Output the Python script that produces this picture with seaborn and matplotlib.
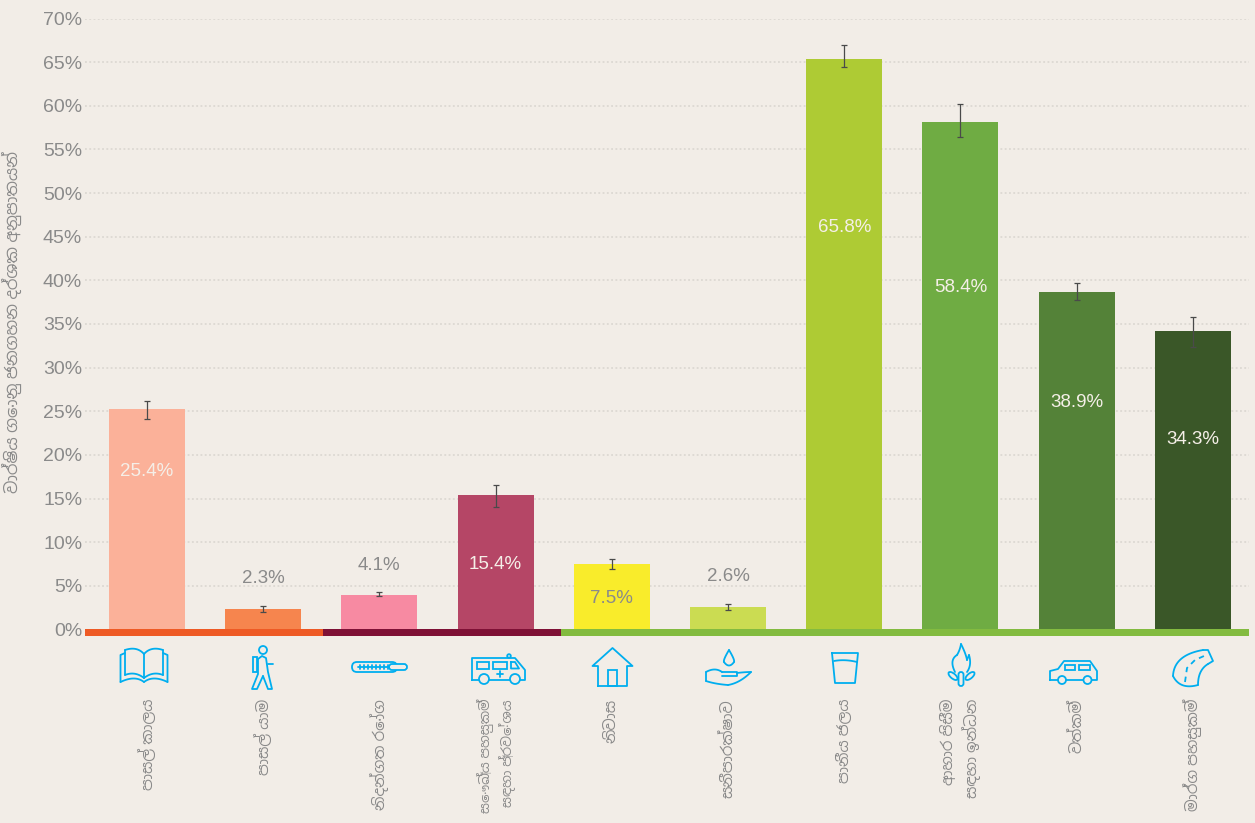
#!/usr/bin/env python3
import numpy as np
import pandas as pd
import matplotlib
matplotlib.use('Agg')
import matplotlib.pyplot as plt
from matplotlib.patches import Circle, Rectangle, FancyBboxPatch, Ellipse
import seaborn as sns

dimensions = ['පාසල් කාලය', 'පාසල් යාම', 'නිදන්ගත රෝග',
              'සෞඛ්‍ය පහසුකම්\nසඳහා ප්‍රවේශය', 'නිවාස', 'සනීපාරක්ෂාව', 'පානීය ජලය',
              'ආහාර පිසීම\nසඳහා ඉන්ධන', 'වත්කම්', 'මාර්ග පහසුකම්']
heights = [25.3, 2.3, 4.0, 15.4, 7.5, 2.6, 65.4, 58.1, 38.7, 34.2]
value_labels = ['25.4%', '2.3%', '4.1%', '15.4%', '7.5%', '2.6%', '65.8%', '58.4%', '38.9%', '34.3%']
err_low = [24.1, 2.0, 3.8, 14.0, 6.9, 2.2, 64.4, 56.4, 37.8, 32.4]
err_high = [26.2, 2.7, 4.3, 16.5, 8.1, 2.9, 67.0, 60.2, 39.7, 35.8]
ytick_values = list(range(0, 75, 5))
ylabel_text = 'වාර්ෂිය ගොනු ජනගහන දර්ශක අනුපාතයන්'

bar_colors = ['#FBB199', '#F6854E', '#F78AA2', '#B54666', '#F9EC2B',
              '#CBDC52', '#AECB34', '#6FAC43', '#548238', '#3A5728']
label_colors = ['#F5EFE8', '#8A8A8A', '#8A8A8A', '#F5EFE8', '#8A8A8A',
                '#8A8A8A', '#F5EFE8', '#F5EFE8', '#F5EFE8', '#F5EFE8']
label_at = [18.1, 5.9, 7.3, 7.5, 3.6, 6.1, 46.1, 39.2, 26.0, 21.8]

BG = '#F2EDE7'
GREY = '#8A8A8A'
BLUE = '#00AEEF'

sns.set_theme(style='white')
plt.rcParams['font.family'] = ['Liberation Sans', 'Noto Sans Sinhala', 'DejaVu Sans']

fig = plt.figure(figsize=(12.55, 8.23), dpi=100, facecolor=BG)
W, H = 1255, 823
ax = fig.add_axes([85 / W, 1 - 629.5 / H, (1249 - 85) / W, (629.5 - 18.5) / H], facecolor=BG)

df = pd.DataFrame({'dim': dimensions, 'val': heights})
sns.barplot(data=df, x='dim', y='val', hue='dim', palette=bar_colors, legend=False,
            width=76 / 116.2, saturation=1, linewidth=0, edgecolor='none', ax=ax, zorder=3)
xs = np.arange(len(heights))
ax.errorbar(xs, heights,
            yerr=[np.array(heights) - np.array(err_low), np.array(err_high) - np.array(heights)],
            fmt='none', ecolor='#4A4A4A', elinewidth=0.9, capsize=2.5, capthick=0.9, zorder=4)

for x, y, txt, c in zip(xs, label_at, value_labels, label_colors):
    ax.text(x, y, txt, ha='center', va='center', fontsize=13.5, color=c, zorder=5)

ax.set_xlim((85 - 147) / 116.2, (1249 - 147) / 116.2)
ax.set_ylim(0, 70)
ax.set_yticks(ytick_values)
ax.set_yticklabels([f'{v}%' for v in ytick_values], fontsize=14, color=GREY)
ax.set_ylabel(ylabel_text, fontsize=11.8, color=GREY, va='center')
ax.yaxis.set_label_coords((13 - 85) / (1249 - 85), 0.503)
ax.set_xlabel('')
ax.tick_params(axis='y', length=0, pad=2)
ax.tick_params(axis='x', length=0, pad=50, labelsize=10.8, labelcolor=GREY)
plt.setp(ax.get_xticklabels(), rotation=90, ha='center', va='top', ma='right', linespacing=1.45)
ax.get_xticklabels()[3].set_fontsize(9.6)  # long one, has to fit above the bottom edge
ax.grid(axis='y', color='#D9D5CF', linestyle=(0, (1.2, 1.6)), linewidth=1.1, zorder=0)
ax.set_axisbelow(True)
sns.despine(ax=ax, left=True, bottom=True, top=True, right=True)

# overlay in pixels for the coloured strip and the icons
ov = fig.add_axes([0, 0, 1, 1], facecolor='none')
ov.set_xlim(0, W)
ov.set_ylim(H, 0)
ov.axis('off')
for x0, x1, c in [(85, 323, '#EE5A25'), (323, 561, '#7F1136'), (561, 1249, '#83BB40')]:
    ov.add_patch(Rectangle((x0, 629), x1 - x0, 7, color=c, lw=0))

ic = dict(color=BLUE, lw=1.3, solid_capstyle='round', solid_joinstyle='round')


def line(*pts):
    a = np.array(pts)
    ov.plot(a[:, 0], a[:, 1], **ic)


def curve(p0, p1, p2, n=20):
    t = np.linspace(0, 1, n)[:, None]
    p0, p1, p2 = map(np.array, (p0, p1, p2))
    a = (1 - t) ** 2 * p0 + 2 * t * (1 - t) * p1 + t ** 2 * p2
    ov.plot(a[:, 0], a[:, 1], **ic)


def ring(x, y, r):
    ov.add_patch(Circle((x, y), r, fill=False, ec=BLUE, lw=1.3))


def box(x, y, w, h):
    ov.add_patch(Rectangle((x, y), w, h, fill=False, ec=BLUE, lw=1.3))


# book
curve((144, 678), (135, 671), (125, 675))
curve((144, 678), (153, 671), (163, 675))
line((125, 675), (125, 650))
line((163, 675), (163, 650))
curve((125, 650), (137, 646), (144, 654))
curve((163, 650), (151, 646), (144, 654))
line((144, 654), (144, 678))
line((125, 653), (120.5, 655), (120.5, 682))
line((163, 653), (167.5, 655), (167.5, 682))
curve((120.5, 682), (135, 675), (144, 682))
curve((167.5, 682), (153, 675), (144, 682))

# walker
ring(263, 650, 4)
line((258, 659), (262, 656), (266, 658), (268, 672), (272, 689), (268, 689), (263, 676))
line((268, 664), (273, 664))
line((258, 659), (258, 674), (252, 689), (257, 689), (263, 676))
box(252.5, 657, 4.5, 15)

# thermometer
ov.add_patch(FancyBboxPatch((352, 662), 45, 10, boxstyle='round,pad=0,rounding_size=5',
                            fill=False, ec=BLUE, lw=1.3))
ov.add_patch(FancyBboxPatch((389, 664), 18, 6, boxstyle='round,pad=0,rounding_size=3',
                            fc=BG, ec=BLUE, lw=1.3, zorder=3))
line((358, 667), (403, 667))
for tx in range(360, 390, 4):
    line((tx, 665), (tx, 669))

# ambulance
line((472, 680), (472, 658), (515, 658), (525, 670), (525, 680), (472, 680))
box(477, 662, 12, 6.5)
box(493, 662, 14, 6.5)
line((511, 662), (515, 662), (519, 668.5), (511, 668.5), (511, 662))
line((500, 671), (500, 677))
line((497, 674), (503, 674))
ring(509, 656, 1.8)
ov.add_patch(Circle((484, 679), 5, fc=BG, ec=BLUE, lw=1.3, zorder=3))
ov.add_patch(Circle((515, 679), 5, fc=BG, ec=BLUE, lw=1.3, zorder=3))

# house
line((598, 686), (598, 666), (592.5, 666), (612.5, 648), (632.5, 666), (627, 666), (627, 686), (598, 686))
box(608, 670, 8.5, 16)

# water in hand
curve((729, 650), (723, 660), (724, 662))
curve((729, 650), (735, 660), (734, 662))
curve((724, 662), (729, 669), (734, 662))
line((706, 672), (706, 681))
curve((706, 672), (715, 667), (722, 672))
line((722, 672), (737, 672), (737, 676), (722, 676))
curve((737, 673), (745, 672), (751, 672))
curve((751, 672), (740, 683), (728, 685))
curve((728, 685), (715, 684), (706, 681))

# glass
line((832, 653), (858, 653), (855, 683), (835, 683), (832, 653))
curve((834, 661), (845, 659), (857, 662))

# fire
curve((955, 672), (949, 660), (957, 655))
curve((957, 655), (960, 650), (961, 644))
curve((961, 644), (966, 654), (967, 660))
line((967, 660), (969, 655))
curve((969, 655), (972, 665), (967, 672))
ov.add_patch(Ellipse((953, 676), 5, 11, angle=-50, fill=False, ec=BLUE, lw=1.3))
ov.add_patch(Ellipse((970, 676), 5, 11, angle=50, fill=False, ec=BLUE, lw=1.3))
ov.add_patch(FancyBboxPatch((958.5, 672), 5, 14, boxstyle='round,pad=0,rounding_size=2.5',
                            fill=False, ec=BLUE, lw=1.3))

# car
line((1050, 680), (1050, 671), (1058, 669), (1064, 661), (1090, 661), (1097, 671), (1097, 680), (1050, 680))
box(1065, 665, 10, 5)
box(1079, 665, 11, 5)
ov.add_patch(Circle((1062, 680), 4, fc=BG, ec=BLUE, lw=1.3, zorder=3))
ov.add_patch(Circle((1087.5, 680), 4, fc=BG, ec=BLUE, lw=1.3, zorder=3))

# road
curve((1173, 676), (1174, 655), (1203, 650))
line((1203, 650), (1208, 650), (1213, 661), (1208, 664))
curve((1208, 664), (1198, 670), (1198, 685))
curve((1198, 685), (1180, 690), (1173, 676))
ic_dash = dict(ic)
ic_dash['linestyle'] = (0, (3, 2.5))
a = np.array([[1185, 682], [1187, 668], [1195, 660], [1204, 656]])
ov.plot(a[:, 0], a[:, 1], **ic_dash)

fig.savefig('out.png', dpi=100, facecolor=BG)
